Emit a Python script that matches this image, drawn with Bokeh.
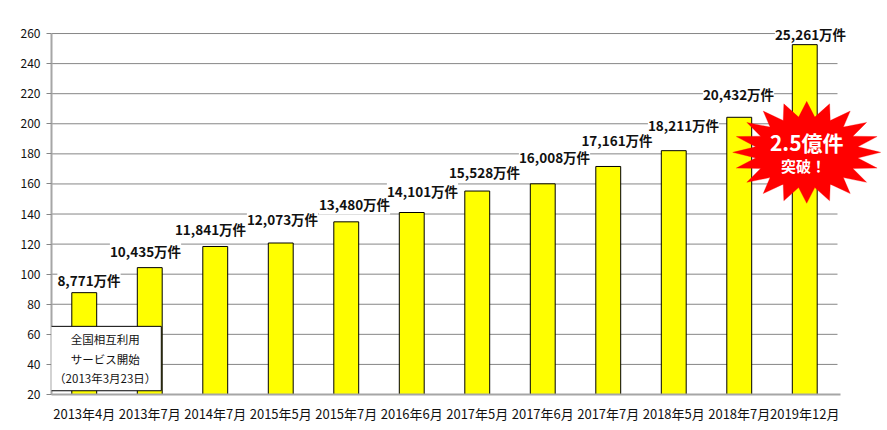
import numpy as np
from bokeh.plotting import figure
from bokeh.models import (ColumnDataSource, Range1d, FixedTicker,
                          LabelSet, Label, PolyAnnotation)
from bokeh.embed import file_html
from bokeh.resources import INLINE
from bokeh.core.properties import value

# ---- data ----
categories = ["2013年4月", "2013年7月", "2014年7月", "2015年5月", "2015年7月", "2016年6月",
              "2017年5月", "2017年6月", "2017年7月", "2018年5月", "2018年7月", "2019年12月"]
values = [87.71, 104.35, 118.41, 120.73, 134.80, 141.01,
          155.28, 160.08, 171.61, 182.11, 204.32, 252.61]   # 百万件
labels = ["8,771万件", "10,435万件", "11,841万件", "12,073万件", "13,480万件", "14,101万件",
          "15,528万件", "16,008万件", "17,161万件", "18,211万件", "20,432万件", "25,261万件"]
y_ticks = [20, 40, 60, 80, 100, 120, 140, 160, 180, 200, 220, 240, 260]

# label placement offsets (px) relative to bar top
label_dx = [4.75, -4.25, -4.75, 1.75, 8.25, 10.75, 7.25, 11.75, 8.75, 9.75, -0.75, 5.75]
label_dy = [13, 17, 17, 24.5, 17.4, 22, 19.5, 27, 26, 26, 23, 11]

FONT = "Noto Sans CJK JP"
n = len(categories)
xpos = [i + 0.5 for i in range(n)]
y_lo, y_hi = y_ticks[0], y_ticks[-1]

p = figure(x_range=Range1d(0, n * 834 / 786), y_range=Range1d(y_lo, 270),
           frame_width=834, frame_height=376,
           min_border_left=51, min_border_right=2, min_border_top=18, min_border_bottom=36,
           output_backend="svg", toolbar_location=None)
p.outline_line_color = None
p.background_fill_color = "white"
p.border_fill_color = "white"

# grid (drawn over the category span only)
p.xgrid.grid_line_color = None
p.ygrid.grid_line_color = None
p.segment(x0=0, x1=n, y0=y_ticks[1:], y1=y_ticks[1:], line_color="#868686", line_width=1)

# axes
p.yaxis.ticker = FixedTicker(ticks=y_ticks)
p.yaxis.bounds = (y_lo, y_hi)
p.yaxis.axis_line_color = "#a6a6a6"
p.yaxis.axis_line_width = 2
p.yaxis.major_tick_out = 5
p.yaxis.major_tick_in = 0
p.yaxis.major_tick_line_color = "#868686"
p.yaxis.minor_tick_line_color = None
p.yaxis.major_label_text_font = FONT
p.yaxis.major_label_text_font_size = "12px"
p.yaxis.major_label_text_color = "#111111"
p.yaxis.major_label_standoff = 6

p.xaxis.ticker = FixedTicker(ticks=xpos)
p.xaxis.major_label_overrides = {x: c for x, c in zip(xpos, categories)}
p.xaxis.bounds = (0, n + 0.05)
p.xaxis.axis_line_color = "#a6a6a6"
p.xaxis.axis_line_width = 2
p.xaxis.major_tick_line_color = None
p.xaxis.minor_tick_line_color = None
p.xaxis.major_label_text_font = FONT
p.xaxis.major_label_text_font_size = "13px"
p.xaxis.major_label_text_color = "#111111"
p.xaxis.major_label_standoff = 3

# bars
src = ColumnDataSource(dict(x=xpos, top=values, text=labels, dx=label_dx, dy=label_dy))
p.vbar(x="x", top="top", bottom=y_lo, width=0.38, source=src,
       fill_color="#FFFF00", line_color="black", line_width=1)

# value labels
ls = LabelSet(x="x", y="top", text="text", x_offset="dx", y_offset="dy", source=src,
              text_align="center", text_baseline="middle",
              text_font=value(FONT), text_font_style="bold", text_font_size="13.5px",
              text_color="#111111", background_fill_color="white")
p.add_layout(ls)

# starburst near the last bar
n_sp = 20
cx = xpos[-1] + 0.03
cy = 181
rx, ry = 1.13, 33.9
k = np.arange(2 * n_sp)
ang = np.pi / 2 + k * np.pi / n_sp
rad = np.where(k % 2 == 0, 1.0, 0.70)
sx = cx + rx * rad * np.cos(ang)
sy = cy + ry * rad * np.sin(ang)
star = PolyAnnotation(xs=list(sx), ys=list(sy), fill_color="#FF0000", fill_alpha=1.0,
                      line_color="#FF0000", line_width=1)
p.add_layout(star)

p.add_layout(Label(x=cx, y=cy, y_offset=10, text="2.5億件", text_align="center",
                   text_baseline="middle", text_font=FONT, text_font_style="bold",
                   text_font_size="21px", text_color="white"))
p.add_layout(Label(x=cx - 0.05, y=cy, y_offset=-13, text="突破！", text_align="center",
                   text_baseline="middle", text_font=FONT, text_font_style="bold",
                   text_font_size="15px", text_color="white"))

# annotation box
p.add_layout(Label(x=0.82, y=43.9, text="全国相互利用\nサービス開始\n（2013年3月23日）",
                   text_align="center", text_baseline="middle",
                   text_font=FONT, text_font_size="11.5px", text_color="#111111",
                   background_fill_color="white", border_line_color="black",
                   border_line_width=1, padding=5))

open("out.html", "w").write(file_html(p, INLINE))
